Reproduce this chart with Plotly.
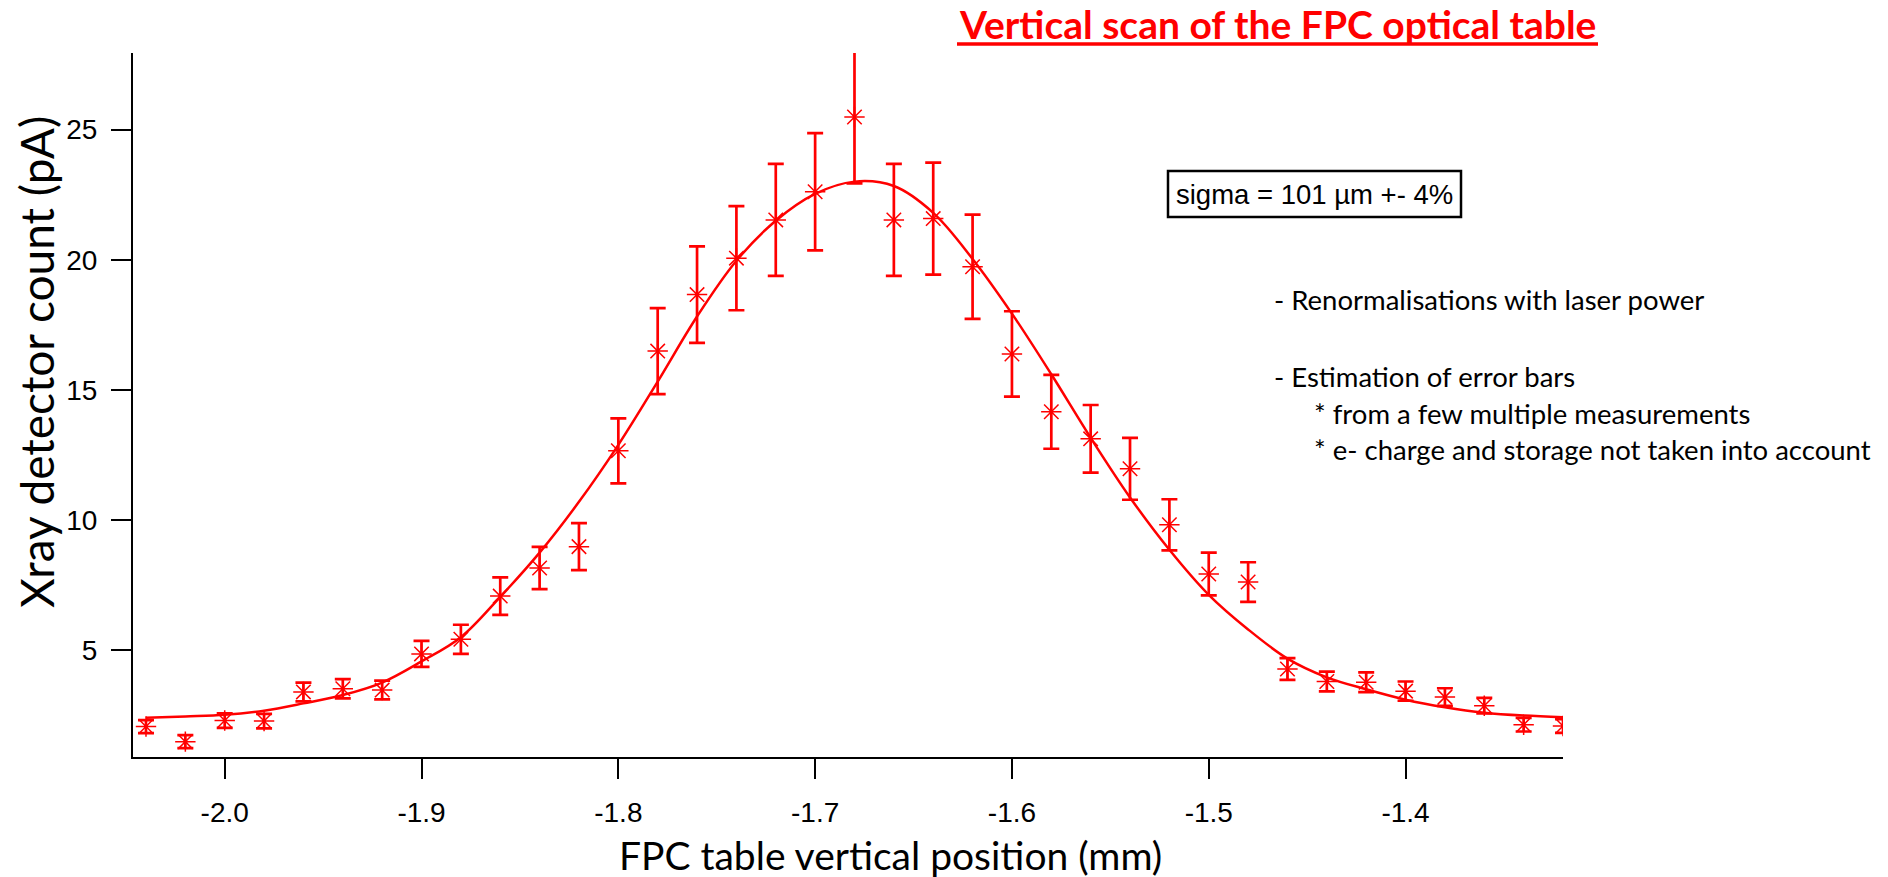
import plotly.graph_objects as go

# ---------------- data ----------------
positions_mm = [-2.04, -2.02, -2.00, -1.98, -1.96, -1.94, -1.92, -1.90, -1.88, -1.86,
                -1.84, -1.82, -1.80, -1.78, -1.76, -1.74, -1.72, -1.70, -1.68, -1.66,
                -1.64, -1.62, -1.60, -1.58, -1.56, -1.54, -1.52, -1.50, -1.48, -1.46,
                -1.44, -1.42, -1.40, -1.38, -1.36, -1.34, -1.32]
counts_pA = [2.07, 1.49, 2.30, 2.28, 3.40, 3.52, 3.47, 4.86, 5.42, 7.08,
             8.16, 8.98, 12.66, 16.49, 18.66, 20.06, 21.53, 22.61, 25.48, 21.53,
             21.58, 19.73, 16.38, 14.16, 13.12, 11.97, 9.82, 7.93, 7.62, 4.28,
             3.80, 3.77, 3.43, 3.20, 2.87, 2.14, 2.09]
errors_pA = [0.25, 0.25, 0.28, 0.28, 0.36, 0.37, 0.36, 0.50, 0.56, 0.72,
             0.81, 0.90, 1.25, 1.65, 1.85, 2.00, 2.15, 2.25, 2.55, 2.15,
             2.15, 2.00, 1.64, 1.42, 1.30, 1.19, 0.98, 0.82, 0.76, 0.42,
             0.38, 0.38, 0.37, 0.34, 0.30, 0.26, 0.26]

fit_x = [-2.04, -2.02, -2.00, -1.98, -1.96, -1.94, -1.92, -1.90, -1.88, -1.86,
         -1.84, -1.82, -1.80, -1.78, -1.76, -1.74, -1.72, -1.70, -1.68, -1.66,
         -1.64, -1.62, -1.60, -1.58, -1.56, -1.54, -1.52, -1.50, -1.48, -1.46,
         -1.44, -1.42, -1.40, -1.38, -1.36, -1.34, -1.32]
fit_y = [2.41, 2.46, 2.52, 2.68, 2.96, 3.28, 3.76, 4.57, 5.50, 7.05,
         8.75, 10.70, 12.89, 15.32, 17.82, 19.96, 21.50, 22.53, 23.00, 22.83,
         21.80, 20.03, 17.93, 15.60, 13.16, 10.87, 8.86, 7.13, 5.80, 4.68,
         3.96, 3.50, 3.10, 2.81, 2.60, 2.49, 2.43]

x_tick_vals = [-2.0, -1.9, -1.8, -1.7, -1.6, -1.5, -1.4]
x_tick_text = ["-2.0", "-1.9", "-1.8", "-1.7", "-1.6", "-1.5", "-1.4"]
y_tick_vals = [5, 10, 15, 20, 25]

title_text = "Vertical scan of the FPC optical table"
x_title = "FPC table vertical position (mm)"
y_title = "Xray detector count (pA)"
sigma_text = "sigma = 101 µm +- 4%"
notes = [
    ("- Renormalisations with laser power", 0),
    ("- Estimation of error bars", 0),
    ("* from a few multiple measurements", 1),
    ("* e- charge and storage not taken into account", 1),
]

# ---------------- layout geometry ----------------
W, H = 1888, 877
L, R, T, B = 133, 325, 53, 120
PW, PH = W - L - R, H - T - B


def px(xp):
    return (xp - L) / PW


def py(yp):
    return (H - B - yp) / PH


RED = "#ff0000"
CAL = "Lato, 'Open Sans', sans-serif"
ARIAL = "'Liberation Sans', Arial, sans-serif"

fig = go.Figure()

fig.add_trace(go.Scatter(
    x=fit_x, y=fit_y, mode="lines", line=dict(color=RED, width=2.5, shape="spline", smoothing=1.0),
    hoverinfo="skip", showlegend=False))

fig.add_trace(go.Scatter(
    x=positions_mm, y=counts_pA, mode="markers",
    marker=dict(symbol="asterisk-open", size=17, color=RED, line=dict(color=RED, width=1.5)),
    error_y=dict(type="data", array=errors_pA, visible=True, color=RED, thickness=2.7, width=8),
    showlegend=False))

axis_common = dict(
    showline=True, linecolor="black", linewidth=2, mirror=False,
    ticks="outside", ticklen=20, tickwidth=2, tickcolor="black",
    showgrid=False, zeroline=False,
    tickfont=dict(family=ARIAL, size=28, color="black"),
)

fig.update_layout(
    width=W, height=H,
    margin=dict(l=L, r=R, t=T, b=B, pad=0),
    paper_bgcolor="white", plot_bgcolor="white",
    xaxis=dict(range=[-2.0466, -1.3200], tickvals=x_tick_vals, ticktext=x_tick_text,
               ticklabelstandoff=9, **axis_common),
    yaxis=dict(range=[0.90, 27.94], tickvals=y_tick_vals, ticklabelstandoff=8, **axis_common),
)

ann = []
# title
ann.append(dict(text="<b>" + title_text + "</b>", xref="paper", yref="paper",
                x=px(1277), y=py(24), xanchor="center", yanchor="middle", showarrow=False,
                font=dict(family=CAL, size=39, color=RED)))
# axis titles
ann.append(dict(text=x_title, xref="paper", yref="paper", x=px(890), y=py(855),
                xanchor="center", yanchor="middle", showarrow=False,
                font=dict(family=CAL, size=39, color="black")))
ann.append(dict(text=y_title, xref="paper", yref="paper", x=px(36), y=py(362),
                xanchor="center", yanchor="middle", showarrow=False, textangle=-90,
                font=dict(family=CAL, size=46, color="black")))
# sigma box text
ann.append(dict(text=sigma_text, xref="paper", yref="paper", x=px(1314), y=py(194),
                xanchor="center", yanchor="middle", showarrow=False,
                font=dict(family=ARIAL, size=27.5, color="black")))
# notes
note_y = [299, 376, 414, 449]
for (txt, indent), yy in zip(notes, note_y):
    ann.append(dict(text=txt, xref="paper", yref="paper", x=px(1272 + 40 * indent), y=py(yy),
                    xanchor="left", yanchor="middle", showarrow=False,
                    font=dict(family=CAL, size=27.5, color="black")))
fig.update_layout(annotations=ann)

fig.add_shape(type="rect", xref="paper", yref="paper",
              x0=px(1168), x1=px(1461), y0=py(217), y1=py(171),
              line=dict(color="black", width=2.5), fillcolor="rgba(0,0,0,0)")
fig.add_shape(type="line", xref="paper", yref="paper",
              x0=px(957), x1=px(1598), y0=py(44), y1=py(44),
              line=dict(color=RED, width=3.5))

fig.write_html("out.html", config={"displayModeBar": False},
               post_script="document.body.style.margin='0px';")
